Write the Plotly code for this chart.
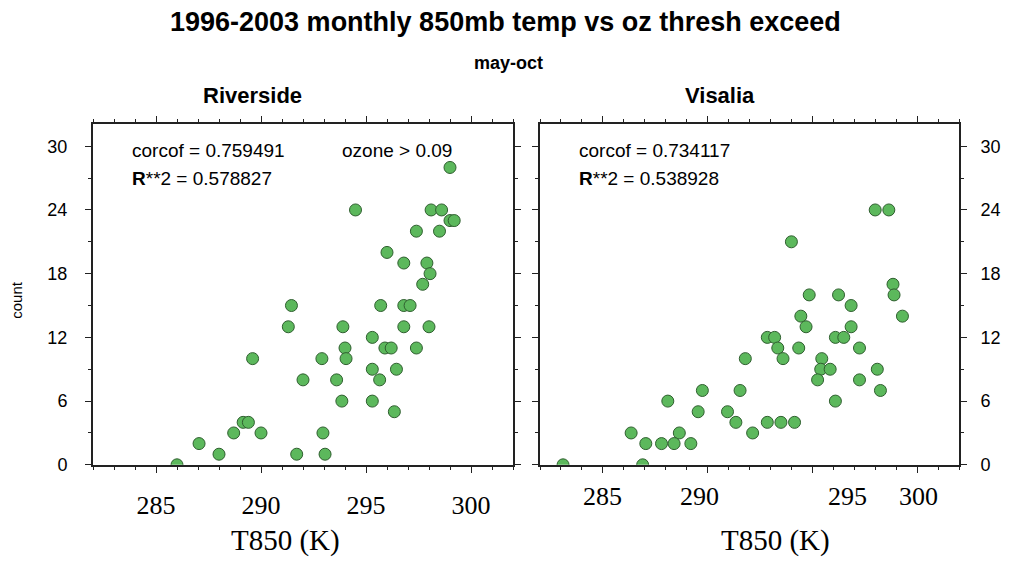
import plotly.graph_objects as go

# ---------------- data ----------------
riv_t850 = [299.0, 294.5, 298.1, 298.6, 299.0, 299.2, 297.4, 298.5, 296.0, 296.8,
            297.9, 298.05, 297.7, 291.45, 295.7, 296.8, 297.1, 291.3, 293.9, 296.8,
            298.0, 295.3, 294.0, 295.9, 296.2, 297.4, 289.6, 292.9, 294.05, 295.3,
            296.45, 292.0, 293.6, 295.65, 293.85, 295.3, 296.35, 289.15, 289.4, 288.7,
            290.0, 292.95, 287.05, 288.0, 291.7, 293.05, 286.0]
riv_count = [28, 24, 24, 24, 23, 23, 22, 22, 20, 19,
             19, 18, 17, 15, 15, 15, 15, 13, 13, 13,
             13, 12, 11, 11, 11, 11, 10, 10, 10, 9,
             9, 8, 8, 8, 6, 6, 5, 4, 4, 3,
             3, 3, 2, 1, 1, 1, 0]

vis_t850 = [298.0, 298.65, 294.0, 298.85, 298.9, 294.85, 296.25, 299.3, 296.85, 294.45,
            294.7, 296.85, 292.85, 293.2, 296.1, 296.5, 293.35, 294.35, 297.25, 293.6,
            291.8, 295.45, 295.4, 295.85, 298.1, 295.25, 297.25, 289.75, 291.55, 298.25,
            288.1, 296.1, 289.55, 290.95, 291.35, 292.85, 293.5, 294.15, 292.15, 286.35,
            288.65, 287.05, 287.8, 288.4, 289.2, 283.1, 286.9]
vis_count = [24, 24, 21, 17, 16, 16, 16, 14, 15, 14,
             13, 13, 12, 12, 12, 12, 11, 11, 11, 10,
             10, 10, 9, 9, 9, 8, 8, 7, 7, 7,
             6, 6, 5, 5, 4, 4, 4, 4, 3, 3,
             3, 2, 2, 2, 2, 0, 0]

x_tick_vals = [285, 290, 295, 300]
x_tick_text = ["285", "290", "295", "300"]
# Visalia's pasted-on tick labels sit slightly off their ticks in the original
vis_label_pos = [285, 289.6, 296.7, 300.05]
y_tick_vals = [0, 6, 12, 18, 24, 30]

main_title = "1996-2003 monthly 850mb temp vs oz thresh exceed"
sub_title = "may-oct"
panel_titles = ["Riverside", "Visalia"]
riv_stats = ["corcof = 0.759491", "<b>R</b>**2 = 0.578827", "ozone > 0.09"]
vis_stats = ["corcof = 0.734117", "<b>R</b>**2 = 0.538928"]
x_title = "T850 (K)"
y_title = "count"

# ---------------- figure ----------------
# the page body has an 8px default margin; size the figure so it fills the window
OFF = 8
W, H = 1011 - OFF, 577 - OFF
def px(x):
    return (x - OFF) / W
def py(y):
    return 1 - (y - OFF) / H

marker = dict(size=12, color="#5cb85c", line=dict(color="#2f5f2f", width=1))

fig = go.Figure()
fig.add_trace(go.Scatter(x=riv_t850, y=riv_count, mode="markers", marker=marker,
                         xaxis="x", yaxis="y", showlegend=False))
fig.add_trace(go.Scatter(x=vis_t850, y=vis_count, mode="markers", marker=marker,
                         xaxis="x2", yaxis="y2", showlegend=False))

axcol = "#222222"
serif = "Liberation Serif, Times New Roman, serif"
sans = "Liberation Sans, Arial, sans-serif"
narrow = "Liberation Sans Narrow, Arial Narrow, Liberation Sans, sans-serif"

def xaxis(domain, anchor, labels):
    return dict(domain=domain, anchor=anchor, range=[282, 302],
                tickvals=x_tick_vals, ticktext=x_tick_text, showticklabels=labels,
                ticks="outside", ticklen=6, tickwidth=1.2, tickcolor=axcol,
                minor=dict(dtick=1, tick0=282, ticks="outside", ticklen=3, tickwidth=1, tickcolor=axcol),
                showline=True, linewidth=2, linecolor=axcol, mirror="ticks",
                showgrid=False, zeroline=False,
                tickfont=dict(family=serif, size=26, color="black"),
                ticklabelstandoff=10)

def yaxis(anchor, side, standoff):
    return dict(domain=[py(473), py(126)], range=[0, 32.1], tickvals=y_tick_vals,
                anchor=anchor, side=side,
                ticks="outside", ticklen=6, tickwidth=1.2, tickcolor=axcol,
                minor=dict(dtick=3, tick0=0, ticks="outside", ticklen=3, tickwidth=1, tickcolor=axcol),
                showline=True, linewidth=2, linecolor=axcol, mirror="ticks",
                showgrid=False, zeroline=False,
                ticklabelstandoff=standoff,
                tickfont=dict(family=sans, size=18, color="black"))

fig.update_layout(
    width=W, height=H,
    margin=dict(l=0, r=0, t=0, b=0),
    paper_bgcolor="white", plot_bgcolor="white",
    xaxis=xaxis([px(93), px(513)], "y", True),
    xaxis2=xaxis([px(540), px(959)], "y2", False),
    yaxis=yaxis("x", "left", 14),
    yaxis2=yaxis("x2", "right", 10),
)

def note(text, x, y, size, family, xanchor="center", angle=0):
    return dict(text=text, x=px(x), y=py(y), xref="paper", yref="paper",
                xanchor=xanchor, yanchor="middle", showarrow=False, textangle=angle,
                font=dict(family=family, size=size, color="black"))

ann = [
    note("<b>" + main_title + "</b>", 505, 22, 27, narrow),
    note("<b>" + sub_title + "</b>", 508, 64, 18, narrow),
    note("<b>" + panel_titles[0] + "</b>", 252, 97, 22, narrow),
    note("<b>" + panel_titles[1] + "</b>", 720, 97, 22, narrow),
    note(y_title, 17, 305, 15, sans, angle=-90),
    note(riv_stats[0], 130, 153, 19, sans, "left"),
    note(riv_stats[1], 130, 182, 19, sans, "left"),
    note(riv_stats[2], 340, 153, 19, sans, "left"),
    note(vis_stats[0], 577, 153, 19, sans, "left"),
    note(vis_stats[1], 577, 182, 19, sans, "left"),
    note(x_title, 285, 550, 29, serif),
    note(x_title, 775, 550, 29, serif),
]
# Visalia x tick labels, placed through the x2 data scale
for pos, txt in zip(vis_label_pos, x_tick_text):
    ann.append(dict(text=txt, x=pos, xref="x2", y=py(505), yref="paper",
                    xanchor="center", yanchor="middle", showarrow=False,
                    font=dict(family=serif, size=26, color="black")))
fig.update_layout(annotations=ann)

fig.write_html("out.html")
